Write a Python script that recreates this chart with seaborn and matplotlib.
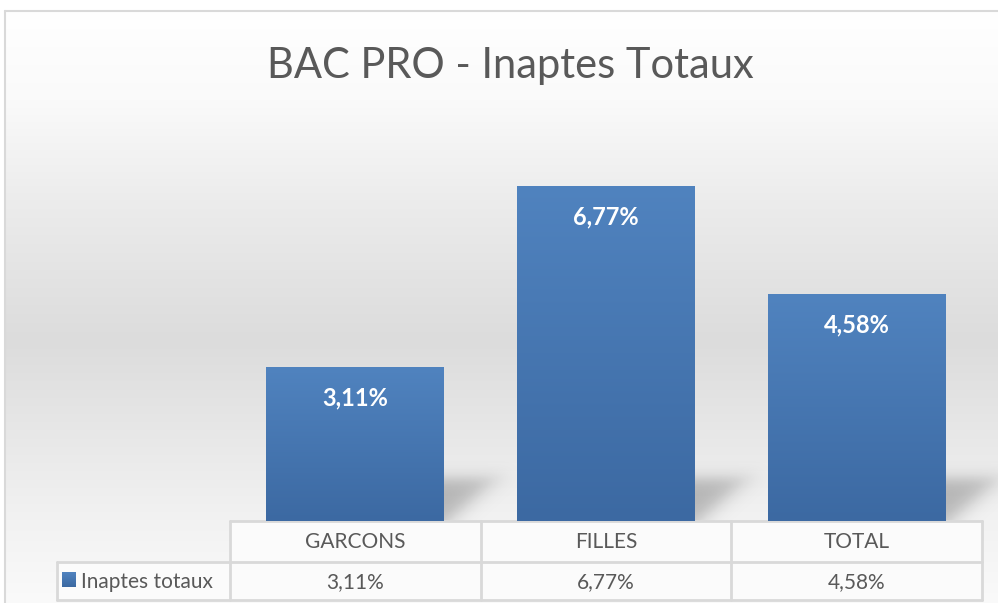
import numpy as np
import matplotlib
matplotlib.use("Agg")
import matplotlib.pyplot as plt
import seaborn as sns

# ---- data ----
categories = ["GARCONS", "FILLES", "TOTAL"]
values = [3.11, 6.77, 4.58]
series_name = "Inaptes totaux"
title = "BAC PRO - Inaptes Totaux"

def fmt(v):
    return f"{v:.2f}".replace(".", ",") + "%"

sns.set_theme(style="white")
plt.rcParams["font.family"] = ["Lato", "DejaVu Sans"]

W, H = 998, 603
fig = plt.figure(figsize=(W / 100, H / 100), dpi=100)
fig.patch.set_facecolor("white")

# background / overlay axes in pixel coordinates (y down)
bg = fig.add_axes([0, 0, 1, 1])
bg.set_xlim(0, W)
bg.set_ylim(H, 0)
bg.axis("off")

# vertical grey gradient of the chart area
ys = np.arange(11, H)
stops_y = [11, 100, 200, 340, 520, 603]
stops_v = [255, 250, 236, 220, 242, 250]
g = np.interp(ys, stops_y, stops_v) / 255.0
grad = np.repeat(g[:, None], 2, axis=1)
bg.imshow(np.dstack([grad, grad, grad]), extent=(5, W, H, 11), aspect="auto",
          origin="upper", zorder=0, interpolation="bilinear")
bg.plot([5, W], [11, 11], color="#d9d9d9", lw=1.5, zorder=1)
bg.plot([5, 5], [11, H], color="#d9d9d9", lw=1.5, zorder=1)

# main bar axes
base_y, top_y = 521, 125
left_x, right_x = 230, 982
ax = fig.add_axes([left_x / W, (H - base_y) / H, (right_x - left_x) / W, (base_y - top_y) / H])
ax.patch.set_alpha(0)
sns.barplot(x=categories, y=values, ax=ax, width=0.71, color="#4a7ab5", saturation=1,
            linewidth=0, edgecolor="none", zorder=3)
ax.set_xlim(-0.5, len(categories) - 0.5)
ax.set_ylim(0, 8)
ax.axis("off")

top_c = np.array([80, 131, 191]) / 255
bot_c = np.array([60, 105, 162]) / 255
t = np.linspace(0, 1, 256)[:, None]
bar_grad = (top_c[None, :] * (1 - t) + bot_c[None, :] * t)[:, None, :]

fig.canvas.draw()
for p in ax.patches:
    x0, w, h = p.get_x(), p.get_width(), p.get_height()
    im = ax.imshow(bar_grad, extent=(x0, x0 + w, 0, h), aspect="auto", origin="upper", zorder=4)
    im.set_clip_path(p)
    # soft shadow at the base, to the right of the bar
    (xr, yb) = ax.transData.transform((x0 + w, 0))
    xr_px, yb_px = xr, H - yb
    sx = np.arange(0, 90)
    sy = np.arange(0, 60)
    DX, HH = np.meshgrid(sx, sy[::-1])
    ext = 10 + 1.1 * HH
    a = 0.24 / (1 + np.exp(-(42 - HH) / 4.5)) / (1 + np.exp(-(ext - DX) / 8.0))
    sh = np.zeros((len(sy), len(sx), 4))
    sh[..., 3] = a
    bg.imshow(sh, extent=(xr_px - 6, xr_px - 6 + len(sx), yb_px, yb_px - len(sy)),
              aspect="auto", origin="upper", zorder=2, interpolation="bilinear")

# value labels inside bars
for i, v in enumerate(values):
    ax.annotate(fmt(v), (i, v), xytext=(0, -22), textcoords="offset points",
                ha="center", va="center", color="white", fontsize=17, fontweight="bold", zorder=6)

# title
bg.text(510, 66, title, ha="center", va="center", fontsize=30, color="#595959", zorder=5)

# data table
line_c = "#d9d9d9"
col_edges = [left_x + (right_x - left_x) * k / len(categories) for k in range(len(categories) + 1)]
r0, r1, r2 = 521, 562, 600
leg_x = 57
bg.fill_between([leg_x, right_x], r1, r2, color="#fbfbfb", zorder=1)
bg.fill_between([left_x, right_x], r0, r1, color="#fbfbfb", zorder=1)
bg.plot([left_x, right_x], [r0, r0], color=line_c, lw=2, zorder=5)
bg.plot([leg_x, right_x], [r1, r1], color=line_c, lw=2, zorder=5)
bg.plot([leg_x, right_x], [r2, r2], color=line_c, lw=2, zorder=5)
bg.plot([leg_x, leg_x], [r1, r2], color=line_c, lw=2, zorder=5)
for k, xe in enumerate(col_edges):
    bg.plot([xe, xe], [r0, r2], color=line_c, lw=2, zorder=5)

txt_c = "#595959"
for k, (c, v) in enumerate(zip(categories, values)):
    cx = (col_edges[k] + col_edges[k + 1]) / 2
    bg.text(cx, (r0 + r1) / 2 + 1, c, ha="center", va="center", fontsize=15, color=txt_c, zorder=6)
    bg.text(cx, (r1 + r2) / 2 + 1, fmt(v), ha="center", va="center", fontsize=15, color=txt_c, zorder=6)

# legend key
key = np.repeat(bar_grad, 2, axis=1)
bg.imshow(key, extent=(62, 76, 587, 572), aspect="auto", origin="upper", zorder=6)
bg.text(81, (r1 + r2) / 2 + 1, series_name, ha="left", va="center", fontsize=15, color=txt_c, zorder=6)

bg.set_xlim(0, W)
bg.set_ylim(H, 0)
fig.savefig("out.png", dpi=100)
